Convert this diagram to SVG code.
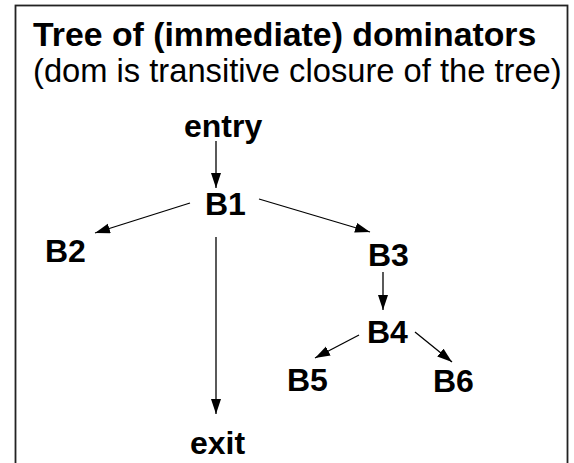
<svg xmlns="http://www.w3.org/2000/svg" width="574" height="463" viewBox="0 0 574 463">
<defs>
<marker id="ah" markerUnits="userSpaceOnUse" markerWidth="16" markerHeight="11" refX="15" refY="5" orient="auto">
<path d="M0,0 L15,5 L0,10 z" fill="#000"/>
</marker>
<style>
.t{font-family:"Liberation Sans",Arial,sans-serif;font-size:32px;fill:#000}
.b{font-weight:bold}
.e{stroke:#000;stroke-width:1.3;fill:none;marker-end:url(#ah)}
</style>
</defs>
<rect x="0" y="0" width="574" height="463" fill="#fff"/>
<rect x="15.5" y="5.5" width="552" height="470" fill="none" stroke="#222" stroke-width="1.8"/>
<g id="title">
<text class="t b" x="33" y="46" style="font-size:33.8px">Tree of (immediate) dominators</text>
<text class="t" x="33" y="82" style="font-size:32.7px">(dom is transitive closure of the tree)</text>
</g>
<g id="connectors">
<line class="e" x1="216" y1="141" x2="216" y2="188"/>
<line class="e" x1="190" y1="203" x2="95" y2="233"/>
<line class="e" x1="259" y1="199" x2="370" y2="232"/>
<line class="e" x1="216" y1="237" x2="216" y2="414"/>
<line class="e" x1="383" y1="272" x2="383" y2="310"/>
<line class="e" x1="359" y1="335" x2="315" y2="358"/>
<line class="e" x1="415" y1="332" x2="452" y2="362"/>
</g>
<g id="entry"><text class="t b" x="184" y="137">entry</text></g>
<g id="B1"><text class="t b" x="205" y="215">B1</text></g>
<g id="B2"><text class="t b" x="45" y="262">B2</text></g>
<g id="B3"><text class="t b" x="368" y="266">B3</text></g>
<g id="B4"><text class="t b" x="367" y="343">B4</text></g>
<g id="B5"><text class="t b" x="287" y="391">B5</text></g>
<g id="B6"><text class="t b" x="433" y="392">B6</text></g>
<g id="exit"><text class="t b" x="190" y="454">exit</text></g>
</svg>
